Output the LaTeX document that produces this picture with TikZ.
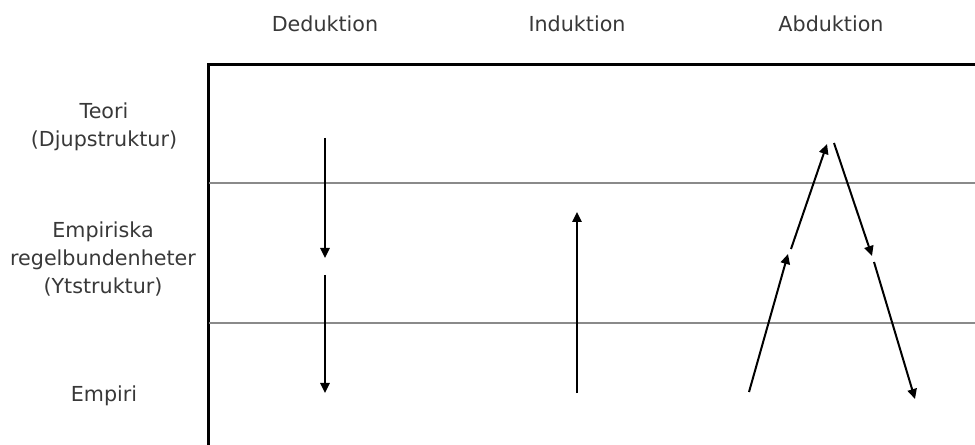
\documentclass[tikz,border=0pt]{standalone}
\usepackage{fontspec}
\setmainfont{DejaVu Sans}
\usetikzlibrary{arrows.meta}
\definecolor{textgra}{HTML}{383838}
\definecolor{linjegra}{HTML}{8A8A8A}

\begin{document}
\begin{tikzpicture}[x=0.75pt,y=-0.75pt,
    lbl/.style={font=\fontsize{15.5}{21}\selectfont, text=textgra, align=center},
    pil/.style={line width=1.5pt, -{Triangle[length=7.5pt,width=7pt]}}]
                    \useasboundingbox (0,0) rectangle (975,445);
                    % ram och nivaer
                    \draw[line width=2.2pt] (208.5,446) -- (208.5,64.5) -- (976,64.5);
                    \draw[line width=1.5pt, linjegra] (209,183) -- (975,183);
                    \draw[line width=1.5pt, linjegra] (209,323) -- (975,323);
                    % rubriker
                    \node[lbl, anchor=base] (ded) at (325,32) {Deduktion};
                    \node[lbl, anchor=base] (ind) at (577,32) {Induktion};
                    \node[lbl, anchor=base] (abd) at (831,32) {Abduktion};
                    \node[lbl] (teori) at (104,127) {Teori\\(Djupstruktur)};
                    \node[lbl] (regel) at (103,259) {Empiriska\\regelbundenheter\\(Ytstruktur)};
                    \node[lbl, anchor=base] (empiri) at (104,402) {Empiri};
                    % deduktion
                    \coordinate (d1) at (325,138); \coordinate (d2) at (325,258);
                    \coordinate (d3) at (325,275); \coordinate (d4) at (325,393);
                    \draw[pil] (d1) -- (d2);
                    \draw[pil] (d3) -- (d4);
                    % induktion
                    \coordinate (i1) at (577,393); \coordinate (i2) at (577,212);
                    \draw[pil] (i1) -- (i2);
                    % abduktion
                    \coordinate (a1) at (749,392); \coordinate (a2) at (788,254);
                    \coordinate (a3) at (791,249); \coordinate (a4) at (827,144);
                    \coordinate (a5) at (834,143); \coordinate (a6) at (872,256);
                    \coordinate (a7) at (874,262); \coordinate (a8) at (915,399);
                    \draw[pil] (a1) -- (a2);
                    \draw[pil] (a3) -- (a4);
                    \draw[pil] (a5) -- (a6);
                    \draw[pil] (a7) -- (a8);
                \end{tikzpicture}
\end{document}
